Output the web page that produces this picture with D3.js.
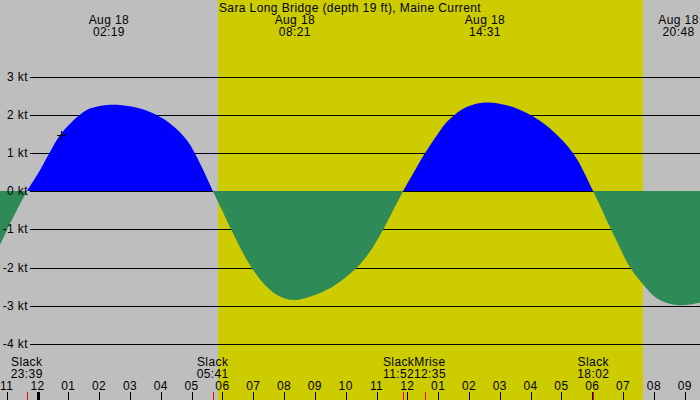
<!DOCTYPE html>
<html>
<head>
<meta charset="utf-8">
<script src="https://cdn.jsdelivr.net/npm/d3@7"></script>
<style>
body { margin: 0; background: #bebebe; }
svg { display: block; }
text { font-family: "Liberation Sans", Arial, sans-serif; font-size: 12px; letter-spacing: 0.4px; fill: #000; }
</style>
</head>
<body>
<div id="chart"></div>
<script>
const title = "Sara Long Bridge (depth 19 ft), Maine Current";

// tidal current, hours from midnight Aug 18 vs knots (flood +, ebb -)
const currentHours = [-1.7, -1.22, -0.83, -0.34,
  0.08, 0.41, 0.73, 1.05, 1.38, 1.70, 2.35, 3.00, 3.65, 4.30, 4.85, 5.27, 5.69,
  5.99, 6.28, 6.92, 7.44, 7.87, 8.36, 9.49, 10.36, 10.79, 11.22, 11.54, 11.86,
  12.30, 12.54, 12.95, 13.25, 13.54, 13.92, 14.52, 15.22, 15.98, 16.63, 17.39, 18.03,
  18.61, 19.23, 19.66, 20.09, 20.74, 21.50, 22.0];
const currentKnots = [-2.1, -1.41, -0.75, 0,
  0.55, 1.03, 1.47, 1.76, 2.0, 2.16, 2.26, 2.22, 2.07, 1.77, 1.33, 0.73, 0,
  -0.5, -1.0, -1.97, -2.5, -2.76, -2.85, -2.54, -2.0, -1.58, -1.0, -0.5, 0,
  0.62, 0.95, 1.45, 1.78, 2.0, 2.2, 2.32, 2.25, 2.0, 1.64, 0.98, 0,
  -1.0, -2.0, -2.45, -2.8, -2.98, -2.92, -2.8];

const yTicks = [3, 2, 1, 0, -1, -2, -3, -4];
const hourTicks = d3.range(-1, 22);

const peakDate = "Aug 18";
const peakHours = [2.317, 8.35, 14.517, 20.8];
const peakLabels = ["02:19", "08:21", "14:31", "20:48"];

const eventNames = ["Slack", "Slack", "Slack", "Mrise", "Slack"];
const eventLabels = ["23:39", "05:41", "11:52", "12:35", "18:02"];
const eventHours = [-0.35, 5.683, 11.867, 12.583, 18.033];

const sunriseHour = 5.857;
const sunsetHour = 19.647;

const nowHour = 0.75;
const nowKnots = 1.48;

const width = 700, height = 400;
const x = d3.scaleLinear().domain([-37.5 / 30.82, (width - 37.5) / 30.82]).range([0, width]);
const y = d3.scaleLinear().domain([-4, 3]).range([344, 76.5]);
const y0 = Math.round(y(0));

const svg = d3.select("#chart").append("svg")
    .attr("width", width).attr("height", height);

svg.append("rect").attr("width", width).attr("height", height).attr("fill", "#bebebe");
svg.append("rect")
    .attr("x", x(sunriseHour)).attr("y", 0)
    .attr("width", x(sunsetHour) - x(sunriseHour)).attr("height", height)
    .attr("fill", "#cccc00");

// grid lines
svg.append("g").selectAll("line").data(yTicks).join("line")
    .attr("x1", 30).attr("x2", width)
    .attr("y1", d => Math.round(y(d)) + 0.5).attr("y2", d => Math.round(y(d)) + 0.5)
    .attr("stroke", "#000").attr("stroke-width", 1)
    .attr("shape-rendering", "crispEdges");

const defs = svg.append("defs");
defs.append("clipPath").attr("id", "above")
  .append("rect").attr("x", 0).attr("y", 0).attr("width", width).attr("height", y0);
defs.append("clipPath").attr("id", "below")
  .append("rect").attr("x", 0).attr("y", y0).attr("width", width).attr("height", height - y0);

const pts = currentHours.map((t, i) => ({ t: t, v: currentKnots[i] }));
const area = d3.area()
    .x(d => x(d.t))
    .y0(y0)
    .y1(d => y(d.v))
    .curve(d3.curveCatmullRom.alpha(0.5));

svg.append("path").datum(pts).attr("d", area)
    .attr("fill", "#0000ff").attr("clip-path", "url(#above)");
svg.append("path").datum(pts).attr("d", area)
    .attr("fill", "#2e8b57").attr("clip-path", "url(#below)");

// y labels
svg.append("g").selectAll("text").data(yTicks).join("text")
    .attr("x", 28).attr("y", d => y(d) + 4)
    .attr("text-anchor", "end")
    .text(d => d + " kt");

// title
svg.append("text").attr("x", width / 2).attr("y", 12)
    .attr("text-anchor", "middle").text(title);

// max current labels
const peaks = svg.append("g").selectAll("g").data(peakHours).join("g");
peaks.append("text").attr("x", d => x(d)).attr("y", 24)
    .attr("text-anchor", "middle").text(peakDate);
peaks.append("text").attr("x", d => x(d)).attr("y", 36)
    .attr("text-anchor", "middle").text((d, i) => peakLabels[i]);

// hour ticks
svg.append("g").selectAll("line").data(hourTicks).join("line")
    .attr("x1", d => Math.round(x(d)) + 0.5).attr("x2", d => Math.round(x(d)) + 0.5)
    .attr("y1", 392).attr("y2", height)
    .attr("stroke", "#000")
    .attr("stroke-width", d => d === 0 ? 3 : 1)
    .attr("shape-rendering", "crispEdges");
svg.append("g").selectAll("text").data(hourTicks).join("text")
    .attr("x", d => x(d)).attr("y", 390)
    .attr("text-anchor", "middle")
    .text(d => d3.format("02")(((d + 24) % 12) || 12));

// event ticks
svg.append("g").selectAll("line").data(eventHours).join("line")
    .attr("x1", d => Math.round(x(d)) + 0.5).attr("x2", d => Math.round(x(d)) + 0.5)
    .attr("y1", 392).attr("y2", height)
    .attr("stroke", "#ff0000").attr("stroke-width", 1)
    .attr("shape-rendering", "crispEdges");

// event labels, pushed apart when they collide
const evs = eventHours.map((h, i) => ({ cx: x(h), name: eventNames[i], label: eventLabels[i] }));
const evG = svg.append("g");
evs.forEach(e => {
  const t = evG.append("text").attr("x", 0).attr("y", -100).text(e.name);
  e.w = t.node().getComputedTextLength();
  t.remove();
});
for (let i = 1; i < evs.length; i++) {
  const a = evs[i - 1], b = evs[i];
  const overlap = (a.cx + a.w / 2) - (b.cx - b.w / 2);
  if (overlap > 0) { a.cx -= overlap / 2; b.cx += overlap / 2; }
}
evs.forEach(e => {
  evG.append("text").attr("x", e.cx).attr("y", 366).attr("text-anchor", "middle").text(e.name);
  evG.append("text").attr("x", e.cx).attr("y", 378).attr("text-anchor", "middle").text(e.label);
});

// current position marker
svg.append("path")
    .attr("d", `M${Math.round(x(nowHour)) - 4},${Math.round(y(nowKnots)) + 0.5}h9M${Math.round(x(nowHour)) + 0.5},${Math.round(y(nowKnots)) - 4}v9`)
    .attr("stroke", "#000").attr("stroke-width", 1)
    .attr("shape-rendering", "crispEdges");
</script>
</body>
</html>
